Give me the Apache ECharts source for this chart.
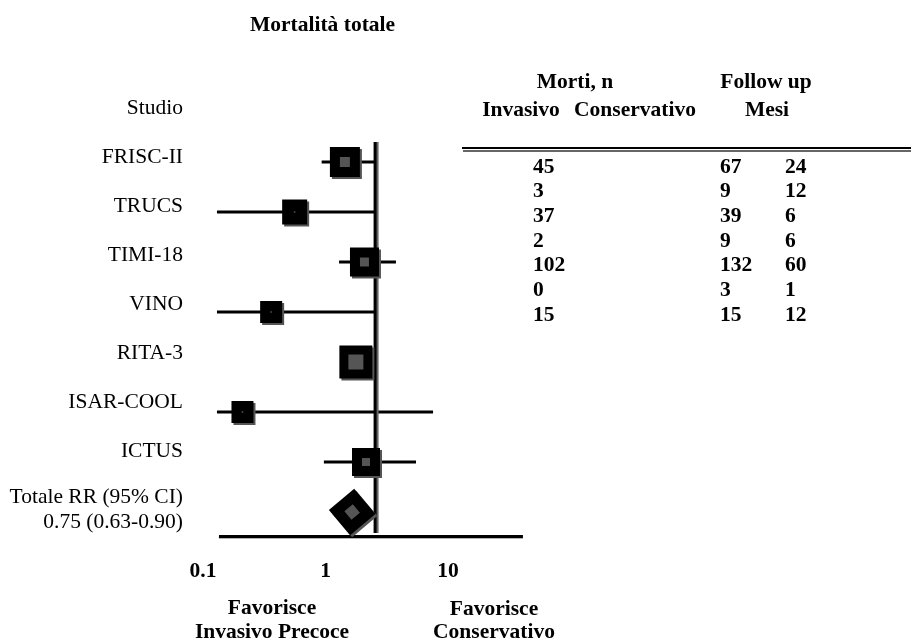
<!DOCTYPE html>
<html>
<head>
<meta charset="utf-8">
<script src="https://cdn.jsdelivr.net/npm/echarts@6/dist/echarts.min.js"></script>
<style>
html,body{margin:0;padding:0;background:#fff;}
#chart{width:911px;height:643px;}
</style>
</head>
<body>
<div id="chart"></div>
<script>
// ---- data ----
const studies = ['FRISC-II', 'TRUCS', 'TIMI-18', 'VINO', 'RITA-3', 'ISAR-COOL', 'ICTUS'];
const rr = [1.44, 0.56, 2.08, 0.36, 1.77, 0.21, 2.14];
const ciLow = [0.93, 0.13, 1.29, 0.13, 1.36, 0.13, 0.97];
const ciHigh = [2.54, 2.54, 3.76, 2.54, 2.40, 7.55, 5.48];
const studyWeight = [30, 25, 29, 22, 33, 22, 28];
const totalLabel = ['Totale RR (95% CI)', '0.75 (0.63-0.90)'];
const totalRR = 1.65;
const totalWeight = 33;
const refValue = 2.54;
const baseLineRange = [0.135, 40.9];
const xTicks = [0.1, 1, 10];
const deathsInvasive = [45, 3, 37, 2, 102, 0, 15];
const deathsConservative = [67, 9, 39, 9, 132, 3, 15];
const followUpMonths = [24, 12, 6, 6, 60, 1, 12];
const headerTop = ['Morti, n', 'Follow up'];
const headerBottom = ['Invasivo', 'Conservativo', 'Mesi'];
const favourLeft = ['Favorisce', 'Invasivo Precoce'];
const favourRight = ['Favorisce', 'Conservativo'];

// ---- layout / style ----
const FONT = '"Liberation Serif", "Times New Roman", serif';
const FS = 21.5;
const rows = studies.concat(['__total__']);
const chart = echarts.init(document.getElementById('chart'));

function txt(text, x, y, align, bold) {
  return {
    type: 'text', silent: true,
    style: {
      text: text, x: x, y: y, align: align, verticalAlign: 'middle',
      fontFamily: FONT, fontSize: FS, fontWeight: bold ? 'bold' : 'normal', fill: '#000'
    }
  };
}

const graphics = [];
graphics.push(txt('Studio', 183, 108, 'right', false));
graphics.push(txt(headerTop[0], 575, 82, 'center', true));
graphics.push(txt(headerTop[1], 766, 82, 'center', true));
graphics.push(txt(headerBottom[0], 521, 110, 'center', true));
graphics.push(txt(headerBottom[1], 635, 110, 'center', true));
graphics.push(txt(headerBottom[2], 767, 110, 'center', true));
graphics.push({type: 'line', silent: true, shape: {x1: 462, y1: 148, x2: 911, y2: 148}, style: {stroke: '#000', lineWidth: 2}});
graphics.push({type: 'line', silent: true, shape: {x1: 463, y1: 151, x2: 911, y2: 151}, style: {stroke: '#666', lineWidth: 2}});
for (let i = 0; i < studies.length; i++) {
  const y = 167 + 24.7 * i;
  graphics.push(txt(String(deathsInvasive[i]), 533, y, 'left', true));
  graphics.push(txt(String(deathsConservative[i]), 720, y, 'left', true));
  graphics.push(txt(String(followUpMonths[i]), 785, y, 'left', true));
}
graphics.push(txt(favourLeft[0], 272, 608, 'center', true));
graphics.push(txt(favourLeft[1], 272, 632, 'center', true));
graphics.push(txt(favourRight[0], 494, 609, 'center', true));
graphics.push(txt(favourRight[1], 494, 632, 'center', true));

const ciData = studies.map((s, i) => [ciLow[i], ciHigh[i], i]);
const squareData = studies.map((s, i) => ({value: [rr[i], i], symbolSize: studyWeight[i]}));
const innerData = studies.map((s, i) => {
  const w = studyWeight[i];
  const inner = w >= 27 ? Math.round((w - 24) * 1.4 + 2) : 1.5;
  return {value: [rr[i], i], symbolSize: inner};
});

// label rich styles: rows drift slightly upward relative to the marks
const richStyles = {
  t: {fontFamily: FONT, fontSize: FS, color: '#000', lineHeight: 25, align: 'right', padding: [0, 0, 4, 0]}
};
studies.forEach((s, i) => {
  richStyles['s' + i] = {fontFamily: FONT, fontSize: FS, color: '#000', padding: [0, 0, 2 * (5 + i), 0]};
});

const option = {
  backgroundColor: '#fff',
  animation: false,
  title: {
    text: 'Mortalità totale', left: 245, top: 9,
    textStyle: {fontFamily: FONT, fontSize: FS, fontWeight: 'bold', color: '#000'}
  },
  grid: {left: 203, top: 137, width: 367.5, height: 400},
  xAxis: {
    type: 'log', logBase: 10, min: 0.1, max: 100,
    axisLine: {show: false}, axisTick: {show: false}, splitLine: {show: false},
    axisLabel: {
      margin: 34, verticalAlign: 'middle',
      fontFamily: FONT, fontSize: FS, fontWeight: 'bold', color: '#000',
      formatter: function (v) {
        for (const t of xTicks) {
          if (Math.abs(Math.log10(v) - Math.log10(t)) < 1e-6) return String(t);
        }
        return '';
      }
    }
  },
  yAxis: [{
    type: 'category', data: rows, inverse: true,
    axisLine: {show: false}, axisTick: {show: false}, splitLine: {show: false},
    axisLabel: {
      margin: 20, color: '#000', fontFamily: FONT, fontSize: FS,
      formatter: function (v, idx) {
        if (v === '__total__') return '{t|' + totalLabel[0] + '}\n{t|' + totalLabel[1] + '}';
        return '{s' + studies.indexOf(v) + '|' + v + '}';
      },
      rich: richStyles
    }
  }, {
    type: 'value', min: 0, max: 8, inverse: true, show: false
  }],
  graphic: graphics,
  series: [
    {
      type: 'custom', yAxisIndex: 0, z: 2,
      encode: {x: [0, 1], y: 2},
      data: ciData,
      renderItem: function (params, api) {
        const y = api.value(2);
        const p1 = api.coord([api.value(0), y]);
        const p2 = api.coord([api.value(1), y]);
        return {type: 'line', shape: {x1: p1[0], y1: p1[1], x2: p2[0], y2: p2[1]},
                style: {stroke: '#000', lineWidth: 3}};
      }
    },
    {
      type: 'line', yAxisIndex: 1, z: 3, symbol: 'none',
      data: [[refValue, 0.1], [refValue, 7.92]],
      lineStyle: {color: '#000', width: 3, shadowColor: '#666', shadowOffsetX: 2, shadowBlur: 0}
    },
    {
      type: 'line', yAxisIndex: 1, z: 3, symbol: 'none',
      data: [[baseLineRange[0], 7.99], [baseLineRange[1], 7.99]],
      lineStyle: {color: '#000', width: 3, shadowColor: '#666', shadowOffsetY: 2, shadowBlur: 0}
    },
    {
      type: 'scatter', yAxisIndex: 0, z: 4, symbol: 'rect',
      data: squareData,
      itemStyle: {color: '#000', opacity: 1, shadowColor: '#555', shadowOffsetX: 2, shadowOffsetY: 2, shadowBlur: 0}
    },
    {
      type: 'scatter', yAxisIndex: 0, z: 5, symbol: 'rect',
      data: innerData,
      itemStyle: {color: '#555', opacity: 1}
    },
    {
      type: 'scatter', yAxisIndex: 0, z: 4, symbol: 'rect', symbolRotate: 40,
      data: [{value: [totalRR, 7], symbolSize: totalWeight}],
      itemStyle: {color: '#000', opacity: 1, shadowColor: '#555', shadowOffsetX: 2, shadowOffsetY: 2, shadowBlur: 0}
    },
    {
      type: 'scatter', yAxisIndex: 0, z: 5, symbol: 'rect', symbolRotate: 40,
      data: [{value: [totalRR, 7], symbolSize: 11}],
      itemStyle: {color: '#555', opacity: 1}
    }
  ]
};
chart.setOption(option);
</script>
</body>
</html>
